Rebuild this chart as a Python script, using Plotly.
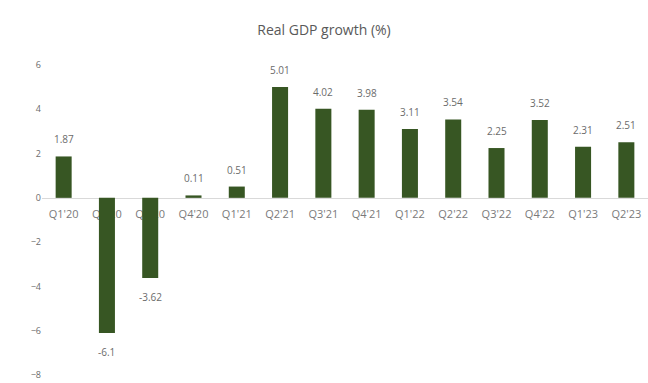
import plotly.graph_objects as go

categories = ["Q1'20", "Q2'20", "Q3'20", "Q4'20", "Q1'21", "Q2'21", "Q3'21",
              "Q4'21", "Q1'22", "Q2'22", "Q3'22", "Q4'22", "Q1'23", "Q2'23"]
growth = [1.87, -6.1, -3.62, 0.11, 0.51, 5.01, 4.02, 3.98, 3.11, 3.54, 2.25, 3.52, 2.31, 2.51]
labels = ["1.87", "-6.1", "-3.62", "0.11", "0.51", "5.01", "4.02", "3.98", "3.11",
          "3.54", "2.25", "3.52", "2.31", "2.51"]
y_ticks = [-8, -6, -4, -2, 0, 2, 4, 6]

FONT = "Open Sans"
GREY = "#6b6b6b"
ymin, ymax = -8, 6

fig = go.Figure()
fig.add_trace(go.Bar(x=categories, y=growth, marker_color="#375623",
                     marker_line_width=0, hoverinfo="skip"))

for c, v, t in zip(categories, growth, labels):
    fig.add_annotation(x=c, y=v, text=t, showarrow=False,
                       yshift=17 if v >= 0 else -19,
                       font=dict(family=FONT, size=10, color=GREY))

fig.update_layout(
    width=648, height=383,
    margin=dict(l=42, r=0, t=65, b=8),
    paper_bgcolor="white", plot_bgcolor="white",
    title=dict(text="Real GDP growth (%)", x=0.5, xanchor="center",
               y=1 - 30 / 383, yanchor="middle",
               font=dict(family=FONT, size=14, color="#595959")),
    bargap=0.63,
    showlegend=False,
    xaxis=dict(anchor="free", position=(0 - ymin) / (ymax - ymin),
               layer="below traces", showline=True, linecolor="#d9d9d9",
               linewidth=1, ticks="", showgrid=False, ticklabelstandoff=6,
               tickfont=dict(family=FONT, size=11, color="#7a7a7a")),
    yaxis=dict(range=[ymin, ymax], tickvals=y_ticks, showgrid=False,
               zeroline=False, showline=False, ticks="",
               tickfont=dict(family=FONT, size=9, color=GREY)),
)

fig.write_html("out.html")
